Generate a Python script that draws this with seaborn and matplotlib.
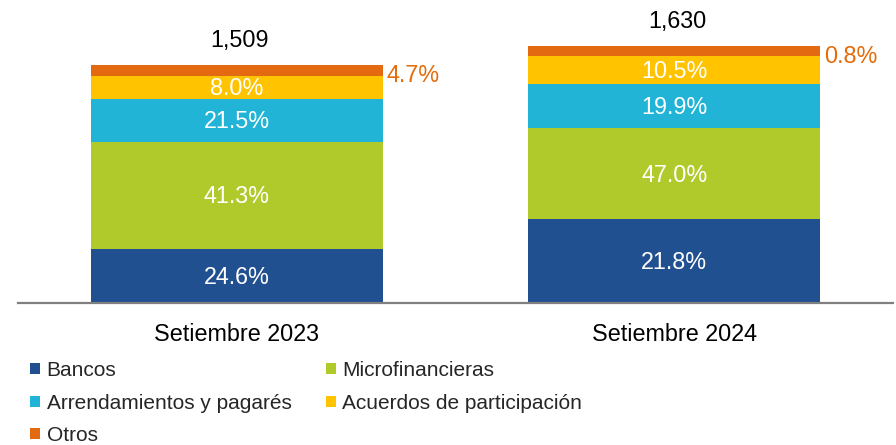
import pandas as pd
import numpy as np
import seaborn as sns
import matplotlib.pyplot as plt

# data (segment sizes in millions, labels in %)
categorias = ["Setiembre 2023", "Setiembre 2024"]
series = ["Bancos", "Microfinancieras", "Arrendamientos y pagarés",
          "Acuerdos de participación", "Otros"]
bancos = [341, 531]
microfinancieras = [681, 577]
arrendamientos = [273, 284]
acuerdos = [146, 173]
otros = [68, 65]
totales = [1509, 1630]

pct_bancos = [24.6, 21.8]
pct_micro = [41.3, 47.0]
pct_arrend = [21.5, 19.9]
pct_acuerdos = [8.0, 10.5]
pct_otros = [4.7, 0.8]

colores = ["#215091", "#B1CA2B", "#22B4D6", "#FFC300", "#E46A12"]

sns.set_style("white")
plt.rcParams['font.family'] = ['Liberation Sans', 'DejaVu Sans']

valores = [bancos, microfinancieras, arrendamientos, acuerdos, otros]
pcts = [pct_bancos, pct_micro, pct_arrend, pct_acuerdos, pct_otros]

df = pd.DataFrame({"Periodo": categorias})
for s, v in zip(series, valores):
    df[s] = v
acum = df[series].cumsum(axis=1)

fig = plt.figure(figsize=(8.96, 4.45), dpi=100)
ax = fig.add_axes([18 / 896, 1 - 303 / 445, 875 / 896, 303 / 445])

ancho = 0.667
# stacked look: draw cumulative totals from the top series down
for s, c in reversed(list(zip(series, colores))):
    sns.barplot(x=df["Periodo"], y=acum[s], color=c, saturation=1,
                width=ancho, linewidth=0, ax=ax, label=s)

ax.set_xlim(-0.5, 1.5)
ax.set_ylim(0, 1922)
ax.set_xlabel("")
ax.set_ylabel("")
ax.set_yticks([])
sns.despine(ax=ax, left=True, top=True, right=True)
ax.spines['bottom'].set_color('#808080')
ax.spines['bottom'].set_linewidth(1.6)
ax.tick_params(axis='x', length=0, pad=14.5, labelsize=16.8, labelcolor='black')

# labels inside segments
for j in range(len(categorias)):
    base = 0
    for k in range(4):
        v = valores[k][j]
        ax.annotate(f"{pcts[k][j]:.1f}%", (j, base + v / 2), xytext=(0, -1),
                    textcoords='offset points', ha='center', va='center',
                    color='white', fontsize=16.8)
        base += v
    ax.annotate(f"{pcts[4][j]:.1f}%", (j + ancho / 2, base + otros[j] / 2),
                xytext=(2.5, -3.6), textcoords='offset points', ha='left',
                va='center', color='#E46C0A', fontsize=16.8)
    ax.annotate(f"{totales[j]:,}", (j, totales[j]), xytext=(2, 18),
                textcoords='offset points', ha='center', va='center',
                color='black', fontsize=16.8)

# legend: row order Bancos/Micro, Arrend/Acuerdos, Otros
handles, labels = ax.get_legend_handles_labels()
if ax.get_legend() is not None:
    ax.get_legend().remove()
hmap = dict(zip(labels, handles))
orden = ["Bancos", "Arrendamientos y pagarés", "Otros",
         "Microfinancieras", "Acuerdos de participación"]
fig.legend([hmap[o] for o in orden], orden, ncol=2, loc='upper left',
           bbox_to_anchor=(30 / 896, 1 - 361 / 445), frameon=False,
           fontsize=15, handlelength=0.48, handleheight=0.45,
           handletextpad=0.32, labelspacing=0.65, columnspacing=1.64,
           borderpad=0, borderaxespad=0)

fig.savefig("out.png", dpi=100)
